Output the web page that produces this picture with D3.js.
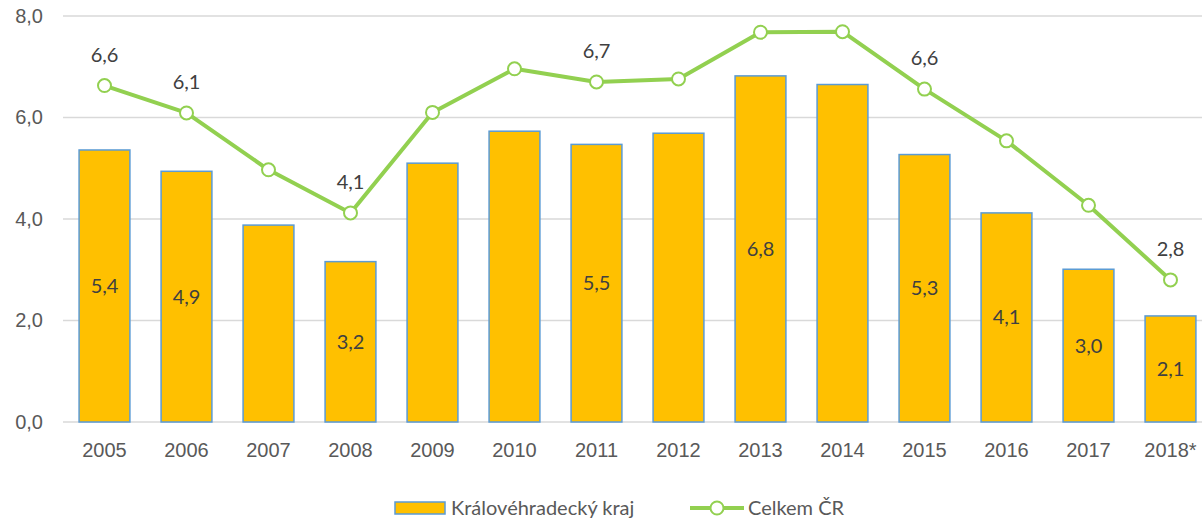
<!DOCTYPE html>
<html>
<head>
<meta charset="utf-8">
<script src="https://cdn.jsdelivr.net/npm/d3@7"></script>
<style>
  body { margin: 0; background: #fff; }
  svg { display: block; font-family: Lato, "Open Sans", sans-serif; }
</style>
</head>
<body>
<svg id="chart"></svg>
<script>
const years = ["2005", "2006", "2007", "2008", "2009", "2010", "2011", "2012", "2013", "2014", "2015", "2016", "2017", "2018*"]
const regionValues = [5.36, 4.94, 3.88, 3.16, 5.10, 5.73, 5.47, 5.69, 6.82, 6.65, 5.27, 4.12, 3.01, 2.09]
const countryValues = [6.63, 6.09, 4.97, 4.12, 6.10, 6.96, 6.70, 6.76, 7.68, 7.69, 6.56, 5.54, 4.27, 2.80]
const regionLabelled = ["2005", "2006", "2008", "2011", "2013", "2015", "2016", "2017", "2018*"]
const countryLabelled = ["2005", "2006", "2008", "2011", "2015", "2018*"]
const yTicks = [0, 2, 4, 6, 8]
const seriesNames = ["Královéhradecký kraj", "Celkem ČR"]

const width = 1202
const height = 521
const fmt = (v) => d3.format(".1f")(v).replace(".", ",")

const svg = d3.select("#chart")
    .attr("width", width)
    .attr("height", height)

const x = d3.scaleBand()
    .domain(years)
    .range([63.5, 1211.5])
    .paddingInner(0.38)
    .paddingOuter(0.19)

const y = d3.scaleLinear()
    .domain([0, 8])
    .range([422, 16])

const cx = (yr) => x(yr) + x.bandwidth() / 2

// gridlines
svg.append("g")
    .selectAll("line")
    .data(yTicks)
    .enter()
    .append("line")
    .attr("x1", 63)
    .attr("x2", width)
    .attr("y1", (d) => y(d))
    .attr("y2", (d) => y(d))
    .attr("stroke", "#d9d9d9")
    .attr("stroke-width", 1.5)

const yAxis = d3.axisLeft(y)
    .tickValues(yTicks)
    .tickFormat(fmt)
    .tickSize(0)
    .tickPadding(0)

svg.append("g")
    .attr("transform", "translate(43,0)")
    .call(yAxis)
    .call((g) => g.select(".domain").remove())
    .selectAll("text")
    .style("font-size", "20px")
    .style("fill", "#595959")
    .style("font-family", "inherit")

const xAxis = d3.axisBottom(x)
    .tickSize(0)
    .tickPadding(21)

svg.append("g")
    .attr("transform", `translate(0,${y(0)})`)
    .call(xAxis)
    .call((g) => g.select(".domain").remove())
    .selectAll("text")
    .style("font-size", "20px")
    .style("fill", "#595959")
    .style("font-family", "inherit")

// bars
const bars = years.map((yr, i) => ({ yr, v: regionValues[i] }))

svg.append("g")
    .selectAll("rect")
    .data(bars)
    .enter()
    .append("rect")
    .attr("x", (d) => x(d.yr))
    .attr("y", (d) => y(d.v))
    .attr("width", x.bandwidth())
    .attr("height", (d) => y(0) - y(d.v))
    .attr("fill", "#ffc000")
    .attr("stroke", "#5b9bd5")
    .attr("stroke-width", 1.5)

svg.append("g")
    .selectAll("text")
    .data(bars.filter((d) => regionLabelled.includes(d.yr)))
    .enter()
    .append("text")
    .attr("x", (d) => cx(d.yr))
    .attr("y", (d) => (y(d.v) + y(0)) / 2)
    .attr("dy", "0.35em")
    .attr("text-anchor", "middle")
    .style("font-size", "20px")
    .style("fill", "#404040")
    .text((d) => fmt(d.v))

// line
const pts = years.map((yr, i) => ({ yr, v: countryValues[i] }))
const line = d3.line()
    .x((d) => cx(d.yr))
    .y((d) => y(d.v))

svg.append("path")
    .datum(pts)
    .attr("d", line)
    .attr("fill", "none")
    .attr("stroke", "#92d050")
    .attr("stroke-width", 4)
    .attr("stroke-linejoin", "round")

svg.append("g")
    .selectAll("circle")
    .data(pts)
    .enter()
    .append("circle")
    .attr("cx", (d) => cx(d.yr))
    .attr("cy", (d) => y(d.v))
    .attr("r", 6.5)
    .attr("fill", "#fff")
    .attr("stroke", "#92d050")
    .attr("stroke-width", 2)

svg.append("g")
    .selectAll("text")
    .data(pts.filter((d) => countryLabelled.includes(d.yr)))
    .enter()
    .append("text")
    .attr("x", (d) => cx(d.yr))
    .attr("y", (d) => y(d.v) - 31)
    .attr("dy", "0.35em")
    .attr("text-anchor", "middle")
    .style("font-size", "20px")
    .style("fill", "#404040")
    .text((d) => fmt(d.v))

// legend
const legend = svg.append("g")

legend.append("rect")
    .attr("x", 395)
    .attr("y", 502)
    .attr("width", 50)
    .attr("height", 12)
    .attr("fill", "#ffc000")
    .attr("stroke", "#5b9bd5")
    .attr("stroke-width", 1.5)

legend.append("text")
    .attr("x", 451)
    .attr("y", 508)
    .attr("dy", "0.35em")
    .style("font-size", "20px")
    .style("fill", "#595959")
    .text(seriesNames[0])

legend.append("line")
    .attr("x1", 690)
    .attr("x2", 744)
    .attr("y1", 508)
    .attr("y2", 508)
    .attr("stroke", "#92d050")
    .attr("stroke-width", 4)

legend.append("circle")
    .attr("cx", 717)
    .attr("cy", 508)
    .attr("r", 6.5)
    .attr("fill", "#fff")
    .attr("stroke", "#92d050")
    .attr("stroke-width", 2)

legend.append("text")
    .attr("x", 748)
    .attr("y", 508)
    .attr("dy", "0.35em")
    .style("font-size", "20px")
    .style("fill", "#595959")
    .text(seriesNames[1])
</script>
</body>
</html>
